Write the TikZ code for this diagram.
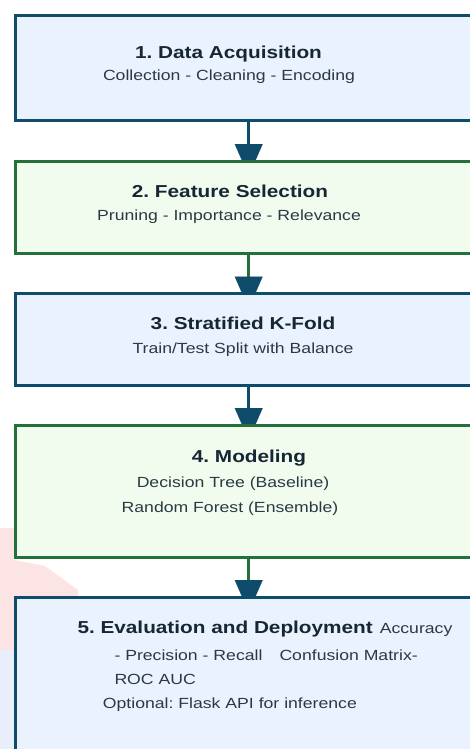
\documentclass[tikz,border=0pt]{standalone}
\usepackage{fontspec}
\setmainfont{Liberation Sans}[FakeStretch=1.2]
\usetikzlibrary{arrows.meta,backgrounds}
\definecolor{bluec}{HTML}{0F4C6B}
\definecolor{greenc}{HTML}{23703A}
\definecolor{bluef}{HTML}{EAF3FD}
\definecolor{greenf}{HTML}{F1FCEE}
\definecolor{titlec}{HTML}{172634}
\definecolor{subc}{HTML}{2B3945}
\definecolor{pinkw}{HTML}{FDE4E4}
\definecolor{lavw}{HTML}{E9EEFB}
\frenchspacing
\begin{document}
\begin{tikzpicture}[x=1pt,y=-1pt,
  box/.style={rectangle, draw, line width=3pt, inner sep=0pt, outer sep=0pt, anchor=north west, minimum width=480pt},
  bluebox/.style={box, draw=bluec, fill=bluef},
  greenbox/.style={box, draw=greenc, fill=greenf},
  ttl/.style={anchor=base, text=titlec, font=\fontsize{17.3}{20}\selectfont\bfseries\frenchspacing, inner sep=0pt},
  sub/.style={anchor=base, text=subc, font=\fontsize{14.7}{18}\selectfont\frenchspacing, inner sep=0pt},
  subw/.style={sub, anchor=base west},
  conn/.style={line width=3.5pt, shorten >=-15pt, -{Triangle[width=28pt,length=32pt,color=bluec,line width=0.1pt]}}
]
\useasboundingbox (0,0) rectangle (469,749);
\coordinate (ax) at (248.7,0);

\node[bluebox,  minimum height=105.5pt] (b1) at (15.5,15.5) {};
\node[greenbox, minimum height=92pt]    (b2) at (15.5,161) {};
\node[bluebox,  minimum height=91.5pt]  (b3) at (15.5,293.5) {};
\node[greenbox, minimum height=132pt]   (b4) at (15.5,425) {};
\node[bluebox,  minimum height=200pt]   (b5) at (15.5,597) {};

\begin{scope}[on background layer]
  \fill[pinkw] (0,528) -- (14,528) -- (14,560) -- (45,566) -- (78,590) -- (78,597) -- (14,597) -- (14,660) -- (0,660) -- cycle;
  \fill[lavw] (0,650) -- (14,650) -- (14,749) -- (0,749) -- cycle;
  \draw[conn, bluec]  (b1.south -| ax) -- (b2.north -| ax);
  \draw[conn, greenc] (b2.south -| ax) -- (b3.north -| ax);
  \draw[conn, bluec]  (b3.south -| ax) -- (b4.north -| ax);
  \draw[conn, greenc] (b4.south -| ax) -- (b5.north -| ax);
\end{scope}

\node[ttl] (t1) at (228.5,58.5) {1. Data Acquisition};
\node[sub] (s1) at (229,81) {Collection - Cleaning - Encoding};

\node[ttl] (t2) at (230,197) {2. Feature Selection};
\node[sub] (s2) at (229,220) {Pruning - Importance - Relevance};

\node[ttl] (t3) at (243,329) {3. Stratified K-Fold};
\node[sub] (s3) at (243,353) {Train/Test Split with Balance};

\node[ttl] (t4) at (249,462) {4. Modeling};
\node[sub] (s4a) at (233,487) {Decision Tree (Baseline)};
\node[sub] (s4b) at (230,512) {Random Forest (Ensemble)};

\node[subw] (t5) at (77.3,633.3) {{\fontsize{17.3}{20}\selectfont\bfseries\color{titlec}5. Evaluation and Deployment}\hspace{7pt}Accuracy};
\node[subw] (s5a) at (114.3,660) {- Precision - Recall};
\node[subw] (s5b) at (279.3,660) {Confusion Matrix-};
\node[subw] (s5c) at (114.3,684) {ROC AUC};
\node[subw] (s5d) at (102.7,708.3) {Optional: Flask API for inference};
\end{tikzpicture}
\end{document}
